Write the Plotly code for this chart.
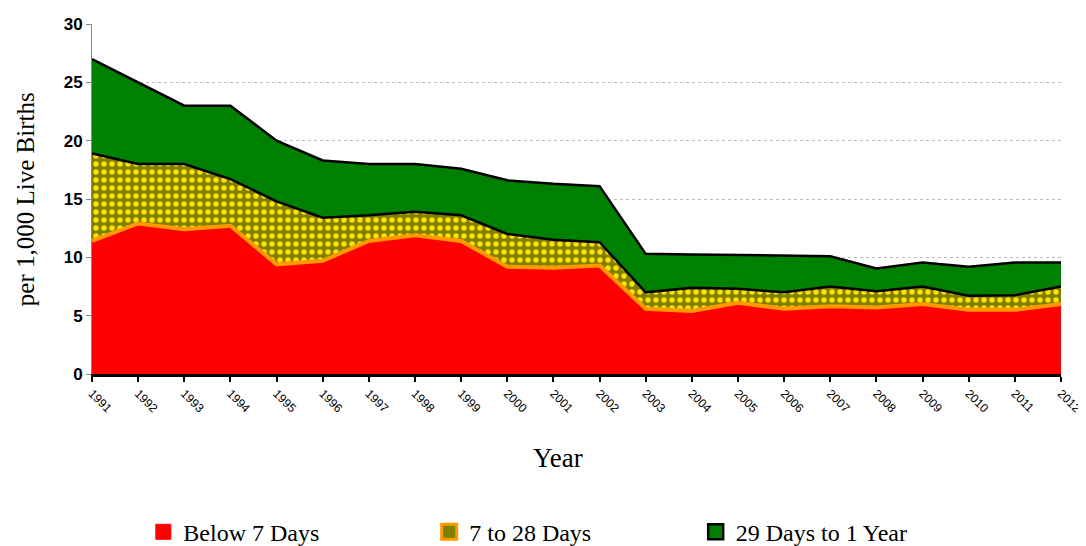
import plotly.graph_objects as go

years = [str(y) for y in range(1991, 2013)]
below_7_days = [11.4, 12.9, 12.4, 12.7, 9.4, 9.7, 11.4, 11.9, 11.4, 9.2, 9.1, 9.3,
                5.6, 5.4, 6.1, 5.6, 5.8, 5.7, 6.0, 5.5, 5.5, 6.0]
days_7_to_28 = [7.5, 5.1, 5.6, 4.0, 5.4, 3.7, 2.2, 2.0, 2.2, 2.8, 2.4, 2.0,
                1.4, 2.0, 1.2, 1.4, 1.7, 1.4, 1.5, 1.2, 1.25, 1.5]
days_29_to_1yr = [8.1, 7.0, 5.0, 6.3, 5.2, 4.9, 4.4, 4.1, 4.0, 4.6, 4.8, 4.8,
                  3.3, 2.85, 2.9, 3.2, 2.6, 1.95, 2.05, 2.5, 2.8, 2.05]
y_ticks = [0, 5, 10, 15, 20, 25, 30]
series_names = ["Below 7 Days", "7 to 28 Days", "29 Days to 1 Year"]

fig = go.Figure()
fig.add_trace(go.Scatter(
    x=years, y=below_7_days, name=series_names[0], stackgroup="one", mode="lines",
    line=dict(color="#FF9900", width=4), fillcolor="#FF0000", showlegend=False))
fig.add_trace(go.Scatter(
    x=years, y=days_7_to_28, name=series_names[1], stackgroup="one", mode="lines",
    line=dict(color="#000000", width=2.5), fillcolor="#808000",
    fillpattern=dict(shape=".", bgcolor="#808000", fgcolor="#FFE000",
                     size=8, solidity=0.35, fillmode="replace"), showlegend=False))
fig.add_trace(go.Scatter(
    x=years, y=days_29_to_1yr, name=series_names[2], stackgroup="one", mode="lines",
    line=dict(color="#000000", width=2.5), fillcolor="#008000", showlegend=False))

# legend-only entries with square swatches
legend_styles = [("#FF0000", "#FF0000", 1, "legend"),
                 ("#808000", "#FF9900", 3, "legend2"),
                 ("#008000", "#000000", 2.5, "legend3")]
for name, (fc, lc, lw, lg) in zip(series_names, legend_styles):
    fig.add_trace(go.Scatter(
        x=[None], y=[None], mode="markers", name=name, legend=lg, showlegend=True,
        marker=dict(symbol="square", size=15, color=fc, line=dict(color=lc, width=lw))))

legend_common = dict(orientation="h", y=-0.452, yanchor="middle", xanchor="left",
                     font=dict(family="Liberation Serif", size=24, color="black"),
                     bgcolor="rgba(0,0,0,0)", itemwidth=30, tracegroupgap=0)

fig.update_layout(
    width=1078, height=538,
    margin=dict(l=84, r=25, t=16, b=172, autoexpand=False),
    plot_bgcolor="white", paper_bgcolor="white",
    showlegend=True,
    legend=dict(x=0.053, **legend_common),
    legend2=dict(x=0.348, **legend_common),
    legend3=dict(x=0.623, **legend_common),
    xaxis=dict(type="category", range=[0, 21], tickangle=45, automargin=False,
               tickfont=dict(family="Liberation Sans", size=12, color="black"),
               ticks="outside", ticklen=5, tickcolor="black", tickwidth=1.5,
               showline=True, linecolor="black", linewidth=2.5, showgrid=False,
               zeroline=False),
    yaxis=dict(range=[0, 30], tickvals=y_ticks, automargin=False,
               tickfont=dict(family="Liberation Sans", size=17, color="black", weight="bold"),
               ticks="outside", ticklen=5, tickcolor="#888888",
               showline=True, linecolor="#888888", linewidth=1,
               showgrid=True, gridcolor="#BBBBBB", griddash="dot", gridwidth=1,
               zeroline=False),
    annotations=[
        dict(text="Year", xref="paper", yref="paper", x=0.481, y=-0.24,
             xanchor="center", yanchor="middle", showarrow=False,
             font=dict(family="Liberation Serif", size=27, color="black")),
        dict(text="per 1,000 Live Births", xref="paper", yref="paper", x=-0.069, y=0.5,
             xanchor="center", yanchor="middle", showarrow=False, textangle=-90,
             font=dict(family="Liberation Serif", size=25, color="black")),
    ],
)

fig.write_html("out.html")
